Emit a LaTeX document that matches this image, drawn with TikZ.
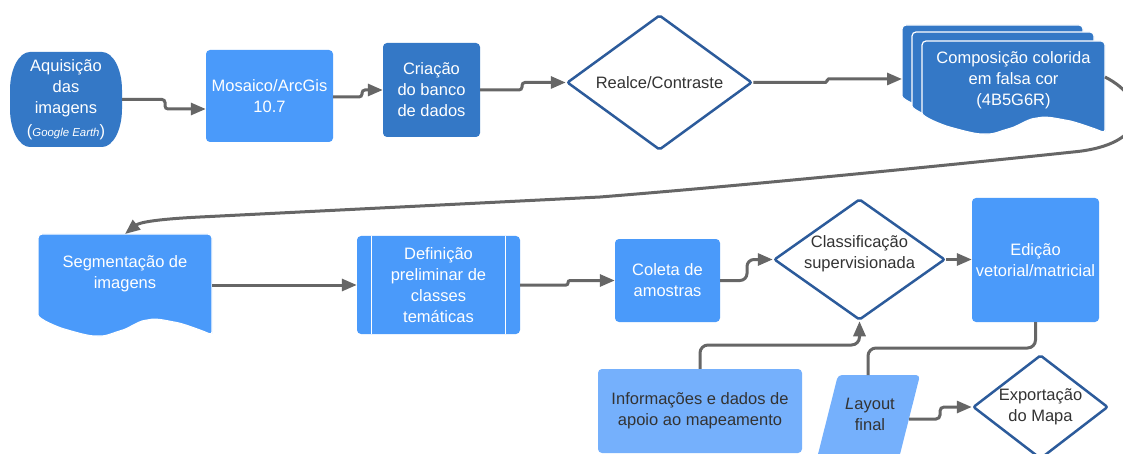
\documentclass[tikz,border=0pt]{standalone}
\usepackage{fontspec}
\setmainfont{Liberation Sans}
\usetikzlibrary{shapes.geometric,arrows.meta,calc}

\definecolor{darkblue}{HTML}{3478C6}
\definecolor{midblue}{HTML}{4A9AFA}
\definecolor{lightblue}{HTML}{75B0FC}
\definecolor{rim}{HTML}{2C5B9B}
\definecolor{wire}{HTML}{666666}
\definecolor{ink}{HTML}{333333}

% A "document" sheet: flat top with rounded corners, wavy bottom.
% #1 fill, #2 left x, #3 right x, #4 top y, #5 bottom-left y
\newcommand\docsheet[5]{%
  \pgfmathsetmacro\dW{#3-#2}%
  \filldraw[fill=#1, draw=white, line width=1.2, rounded corners=4]
    (#2,#5) -- (#2,#4) -- (#3,#4) -- (#3,{#5+17})
    -- plot[smooth, tension=0.6] coordinates {
      (#3,{#5+17}) ({#2+0.93*\dW},{#5+11}) ({#2+0.78*\dW},{#5+3})
      ({#2+0.63*\dW},{#5+1}) ({#2+0.47*\dW},{#5+12}) ({#2+0.34*\dW},{#5+17})
      ({#2+0.17*\dW},{#5+11}) (#2,#5)}
    -- cycle;}

\begin{document}
\begin{tikzpicture}[x=1pt, y=-1pt,
  every node/.style={font=\fontsize{16.5}{21}\selectfont},
  box/.style={rectangle, rounded corners=4, inner sep=0pt, text=white, align=center},
  dia/.style={diamond, draw=rim, line width=2.5, fill=white, text=ink,
    inner sep=0pt, align=center, rounded corners=2},
  label/.style={inner sep=0pt, align=center},
  wire/.style={draw=wire, line width=3, rounded corners=3},
  arr/.style={wire, -{Triangle[length=15pt,width=12pt]}}]

\useasboundingbox (0,0) rectangle (1123,454);
\fill[white] (0,0) rectangle (1123,454);

% ---------- top row ----------
% terminal with elliptic sides
\fill[darkblue] (30,52) -- (102,52) .. controls (113,52) and (122,69) .. (122,90)
  -- (122,109) .. controls (122,130) and (113,147) .. (102,147)
  -- (30,147) .. controls (19,147) and (10,130) .. (10,109)
  -- (10,90) .. controls (10,69) and (19,52) .. (30,52) -- cycle;
\node[box, minimum width=112, minimum height=95] (aq) at (66,99.5)
  {Aquisição\\das\\imagens\\[2pt](\textit{\fontsize{11.4}{21}\selectfont Google Earth})};
\node[box, fill=midblue, minimum width=127, minimum height=92] (mos) at (269.5,96) {Mosaico/ArcGis\\10.7};
\node[box, fill=darkblue, minimum width=97, minimum height=94] (cri) at (431.5,90) {Criação\\do banco\\de dados};
\node[dia, minimum width=185, minimum height=135, aspect=1.37] (rea) at (659.5,82.5) {Realce/Contraste};

% stacked colour composites
\docsheet{darkblue}{902}{1083}{25}{100}
\docsheet{darkblue}{912}{1094}{32}{110}
\docsheet{darkblue}{922}{1105}{41}{117}
\node[label, text=white] (comp) at (1013.5,80) {Composição colorida\\em falsa cor\\(4B5G6R)};
\coordinate (compin) at (902,79);
\coordinate (compout) at (1105,77);

% ---------- middle row ----------
\docsheet{midblue}{38}{212}{234}{319}
\node[label, text=white] (seg) at (125,274) {Segmentação de\\imagens};
\coordinate (segin) at (125,234);
\coordinate (segout) at (212,285);

\node[box, fill=midblue, minimum width=163, minimum height=98] (def) at (438.5,285)
  {Definição\\preliminar de\\classes\\temáticas};
\draw[white, line width=1.2] ($(def.north west)+(15,0)$) -- ($(def.south west)+(15,0)$);
\draw[white, line width=1.2] ($(def.north east)+(-15,0)$) -- ($(def.south east)+(-15,0)$);

\node[box, fill=midblue, minimum width=105, minimum height=83] (col) at (667.5,280.5) {Coleta de\\amostras};
\node[dia, minimum width=171, minimum height=121, aspect=1.41] (cls) at (859.5,259.5) {};
\node[label, text=ink] (clstxt) at (859.5,254) {Classificação\\supervisionada};
\node[box, fill=midblue, minimum width=127, minimum height=124] (edi) at (1035.5,260) {Edição\\vetorial/matricial};

% ---------- bottom row ----------
\node[box, fill=lightblue, text=ink, minimum width=204, minimum height=84] (info) at (700,411)
  {Informações e dados de\\apoio ao mapeamento};
\fill[lightblue, rounded corners=4] (814,470) -- (838,375) -- (920,375) -- (896,470) -- cycle;
\node[label, text=ink] (lay) at (870,414) {\textit{L}ayout\\final};
\coordinate (laytop) at (868,375);
\coordinate (layright) at (909,419);
\node[dia, minimum width=135, minimum height=104, aspect=1.3] (exp) at (1040.5,407) {Exportação\\do Mapa};

% ---------- connectors ----------
\draw[arr] (aq.east) -- (165,99.5) -- (165,109) -- (mos.west |- 0,109);
\draw[arr] (mos.east |- 0,97) -- (362,97) -- (362,90) -- (cri.west);
\draw[arr] (cri.east) -- (522,90) -- (522,82.5) -- (rea.west);
\draw[arr, rounded corners=1.5] (rea.east) -- (827,82.5) -- (827,79) -- (compin);
\draw[arr, rounded corners=0] (compout) .. controls (1150,100) and (1150,145) .. (1073,152)
  .. controls (950,165) and (750,185) .. (600,197) -- (200,217)
  .. controls (160,219) and (140,222) .. (segin);
\draw[arr] (segout) -- (def.west |- segout);
\draw[arr, rounded corners=2] (def.east |- segout) -- (568,285) -- (568,280.5) -- (col.west);
\draw[arr, rounded corners=7] (col.east) -- (747,280.5) -- (747,259.5) -- (cls.west);
\draw[arr] (cls.east) -- (edi.west |- cls.east);
\draw[wire, rounded corners=8] (edi.south) -- (1035.5,348) -- (868,348) -- (laytop);
\draw[arr, rounded corners=8] (info.north) -- (700,345) -- (859.5,345) -- (cls.south);
\draw[arr, rounded corners=4] (layright) -- (940,419) -- (940,407) -- (exp.west);
\end{tikzpicture}
\end{document}
